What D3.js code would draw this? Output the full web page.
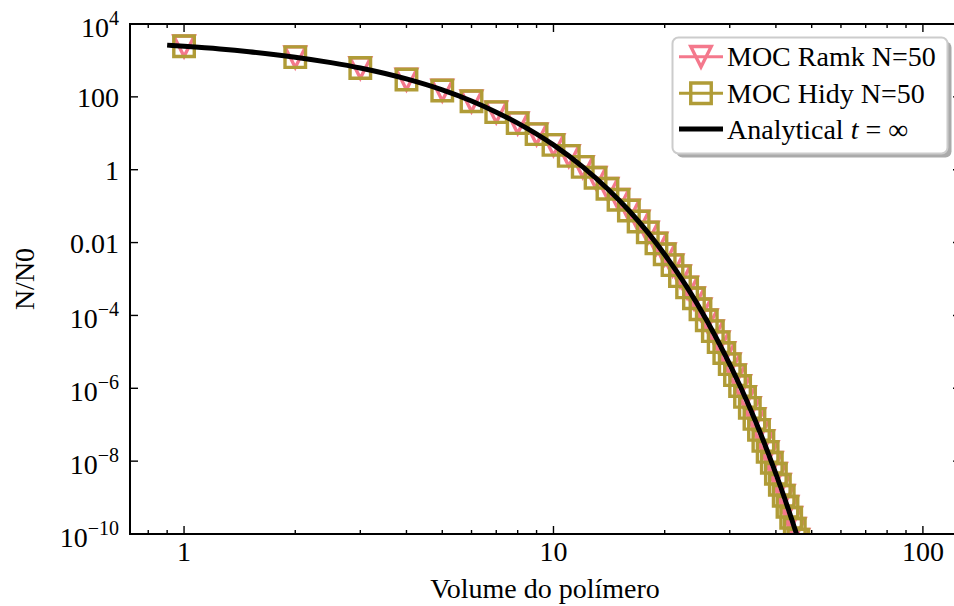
<!DOCTYPE html>
<html><head><meta charset="utf-8">
<script src="https://cdn.jsdelivr.net/npm/d3@7"></script>
<style>
body{margin:0;background:#fff;}
</style>
</head><body>
<svg id="chart" width="954" height="606"></svg>
<script>
// ---------- data ----------
const volumes = [1,2,3,4,5,6,7,8,9,10,11,12,13,14,15,16,17,18,19,20,21,22,23,24,25,
                 26,27,28,29,30,31,32,33,34,35,36,37,38,39,40,41,42,43,44,45,46,47,48,49,50];
const ramkValues = [2.45e3,1.23e3,6.2e2,3.0e2,1.5e2,76,38,19,9.5,4.8,2.4,1.2,0.6,0.3,0.15,
  7.6e-2,3.8e-2,1.9e-2,9.5e-3,4.8e-3,2.4e-3,1.2e-3,5.9e-4,2.95e-4,1.48e-4,7.4e-5,3.7e-5,
  1.85e-5,9.3e-6,4.6e-6,2.3e-6,1.15e-6,5.8e-7,2.9e-7,1.45e-7,7.2e-8,3.6e-8,1.8e-8,9.0e-9,
  4.5e-9,2.25e-9,1.12e-9,5.6e-10,2.8e-10,1.4e-10,7.0e-11,3.5e-11,1.75e-11,8.8e-12,4.4e-12];
const hidyValues = [2.45e3,1.23e3,6.2e2,3.0e2,1.5e2,76,38,19,9.5,4.8,2.4,1.2,0.6,0.3,0.15,
  7.6e-2,3.8e-2,1.9e-2,9.5e-3,4.8e-3,2.4e-3,1.2e-3,5.9e-4,2.95e-4,1.48e-4,7.4e-5,3.7e-5,
  1.85e-5,9.3e-6,4.6e-6,2.3e-6,1.15e-6,5.8e-7,2.9e-7,1.45e-7,7.2e-8,3.6e-8,1.8e-8,9.0e-9,
  4.5e-9,2.25e-9,1.12e-9,5.6e-10,2.8e-10,1.4e-10,7.0e-11,3.5e-11,1.75e-11,8.8e-12,4.4e-12];
const analyticVolumes = [0.9,1,1.25,1.5,2,2.5,3,4,5,6,7,8,10,12,14,16,18,20,23,26,29,32,35,38,41,44,47,50];
const analyticValues = [2.63e3,2.45e3,2.07e3,1.74e3,1.23e3,8.7e2,6.2e2,3.1e2,1.55e2,77,38,19,4.8,1.2,0.30,
  7.6e-2,1.9e-2,4.7e-3,5.9e-4,7.3e-5,9.1e-6,1.15e-6,1.45e-7,1.8e-8,2.25e-9,2.8e-10,3.5e-11,4.4e-12];
const xTickValues = [1,10,100];
const xTickLabels = ["1","10","100"];
const yTickValues = [1e4,1e2,1,1e-2,1e-4,1e-6,1e-8,1e-10];
const yTickBase = ["10","100","1","0.01","10","10","10","10"];
const yTickExp  = ["4","","","","−4","−6","−8","−10"];
const seriesNames = ["MOC Ramk N=50","MOC Hidy N=50","Analytical"];
const seriesColors = ["#f4788c","#b09c37","#000000"];
const xLabel = "Volume do polímero";
const yLabel = "N/N0";

const FONT = '"Liberation Serif", "Tinos", "Times New Roman", serif';

// ---------- layout ----------
const L=130, R=961, T=24, B=534;
const svg = d3.select("#chart").style("font-family",FONT);
const x = d3.scaleLog().domain([0.714,126.8]).range([L,R]);
const y = d3.scaleLog().domain([1e-10,1e4]).range([B,T]);

svg.append("defs").append("clipPath").attr("id","clip")
  .append("rect").attr("x",L).attr("y",T).attr("width",R-L).attr("height",B-T);

const plot = svg.append("g").attr("clip-path","url(#clip)");
const ms = 20.5;
const triPath = `M${-ms/2},${-ms/2}L${ms/2},${-ms/2}L0,${ms/2}Z`;
const sqPath = `M${-ms/2},${-ms/2}H${ms/2}V${ms/2}H${-ms/2}Z`;

plot.append("g").selectAll("path").data(volumes.map((v,i)=>[v,ramkValues[i]])).join("path")
  .attr("d",triPath).attr("transform",d=>`translate(${x(d[0])},${y(d[1])})`)
  .attr("fill","none").attr("stroke",seriesColors[0]).attr("stroke-width",3.4)
  .attr("stroke-linejoin","miter").attr("stroke-miterlimit",10);
plot.append("g").selectAll("path").data(volumes.map((v,i)=>[v,hidyValues[i]])).join("path")
  .attr("d",sqPath).attr("transform",d=>`translate(${x(d[0])},${y(d[1])})`)
  .attr("fill","none").attr("stroke",seriesColors[1]).attr("stroke-width",3.4)
  .attr("stroke-linejoin","miter");
const line = d3.line().x(d=>x(d[0])).y(d=>y(d[1])).curve(d3.curveMonotoneX);
plot.append("path").datum(analyticVolumes.map((v,i)=>[v,analyticValues[i]]))
  .attr("d",line).attr("fill","none").attr("stroke",seriesColors[2]).attr("stroke-width",5);

// ---------- frame & ticks ----------
const frame = svg.append("g");
frame.append("rect").attr("x",L).attr("y",T).attr("width",R-L).attr("height",B-T)
  .attr("fill","none").attr("stroke","#000").attr("stroke-width",2);
const allX = x.ticks().filter(v=>v>=x.domain()[0]&&v<=x.domain()[1]);
allX.forEach(v=>{
  const major = xTickValues.includes(v);
  const len = major?8:4;
  const px = x(v);
  frame.append("line").attr("x1",px).attr("x2",px).attr("y1",B).attr("y2",B-len)
    .attr("stroke","#000").attr("stroke-width",1.4);
  frame.append("line").attr("x1",px).attr("x2",px).attr("y1",T).attr("y2",T+len)
    .attr("stroke","#000").attr("stroke-width",1.4);
});
yTickValues.forEach(v=>{
  const py = y(v);
  frame.append("line").attr("x1",L).attr("x2",L+8).attr("y1",py).attr("y2",py)
    .attr("stroke","#000").attr("stroke-width",1.4);
  frame.append("line").attr("x1",R).attr("x2",R-8).attr("y1",py).attr("y2",py)
    .attr("stroke","#000").attr("stroke-width",1.4);
});

// tick labels
xTickValues.forEach((v,i)=>{
  svg.append("text").attr("x",x(v)).attr("y",561).attr("text-anchor","middle")
    .style("font-family",FONT).attr("font-size",28).text(xTickLabels[i]);
});
yTickValues.forEach((v,i)=>{
  const t = svg.append("text").attr("x",119).attr("y",y(v)+ (yTickExp[i]?13:10))
    .attr("text-anchor","end").style("font-family",FONT).attr("font-size",28);
  t.append("tspan").text(yTickBase[i]);
  if(yTickExp[i]) t.append("tspan").attr("dy",-12).attr("font-size",20).text(yTickExp[i]);
});

// axis labels
svg.append("text").attr("x",545).attr("y",598).attr("text-anchor","middle")
  .style("font-family",FONT).attr("font-size",28).text(xLabel);
svg.append("text").attr("transform","translate(34,279) rotate(-90)").attr("text-anchor","middle")
  .style("font-family",FONT).attr("font-size",28).text(yLabel);

// ---------- legend ----------
const lg = svg.append("g");
lg.append("rect").attr("x",676.5).attr("y",41.5).attr("width",275).attr("height",116).attr("rx",6)
  .attr("fill","#aaaaaa");
lg.append("rect").attr("x",672.5).attr("y",37.5).attr("width",275).attr("height",116).attr("rx",6)
  .attr("fill","#fff").attr("stroke","#cccccc").attr("stroke-width",2);
const rows = [56.7,93.3,129];
rows.forEach((ry,i)=>{
  lg.append("line").attr("x1",679).attr("x2",723).attr("y1",ry).attr("y2",ry)
    .attr("stroke",seriesColors[i]).attr("stroke-width",i==2?5:3);
  if(i==0) lg.append("path").attr("d",triPath).attr("transform",`translate(701,${ry})`)
    .attr("fill","none").attr("stroke",seriesColors[0]).attr("stroke-width",3.4).attr("stroke-miterlimit",10);
  if(i==1) lg.append("path").attr("d",sqPath).attr("transform",`translate(701,${ry})`)
    .attr("fill","none").attr("stroke",seriesColors[1]).attr("stroke-width",3.4);
  const t = lg.append("text").attr("x",727).attr("y",ry+9.5).style("font-family",FONT).attr("font-size",28);
  if(i<2) t.text(seriesNames[i]);
  else {
    t.append("tspan").text(seriesNames[2]+" ");
    t.append("tspan").attr("font-style","italic").text("t");
    t.append("tspan").text(" = ∞");
  }
});
</script>
</body></html>
